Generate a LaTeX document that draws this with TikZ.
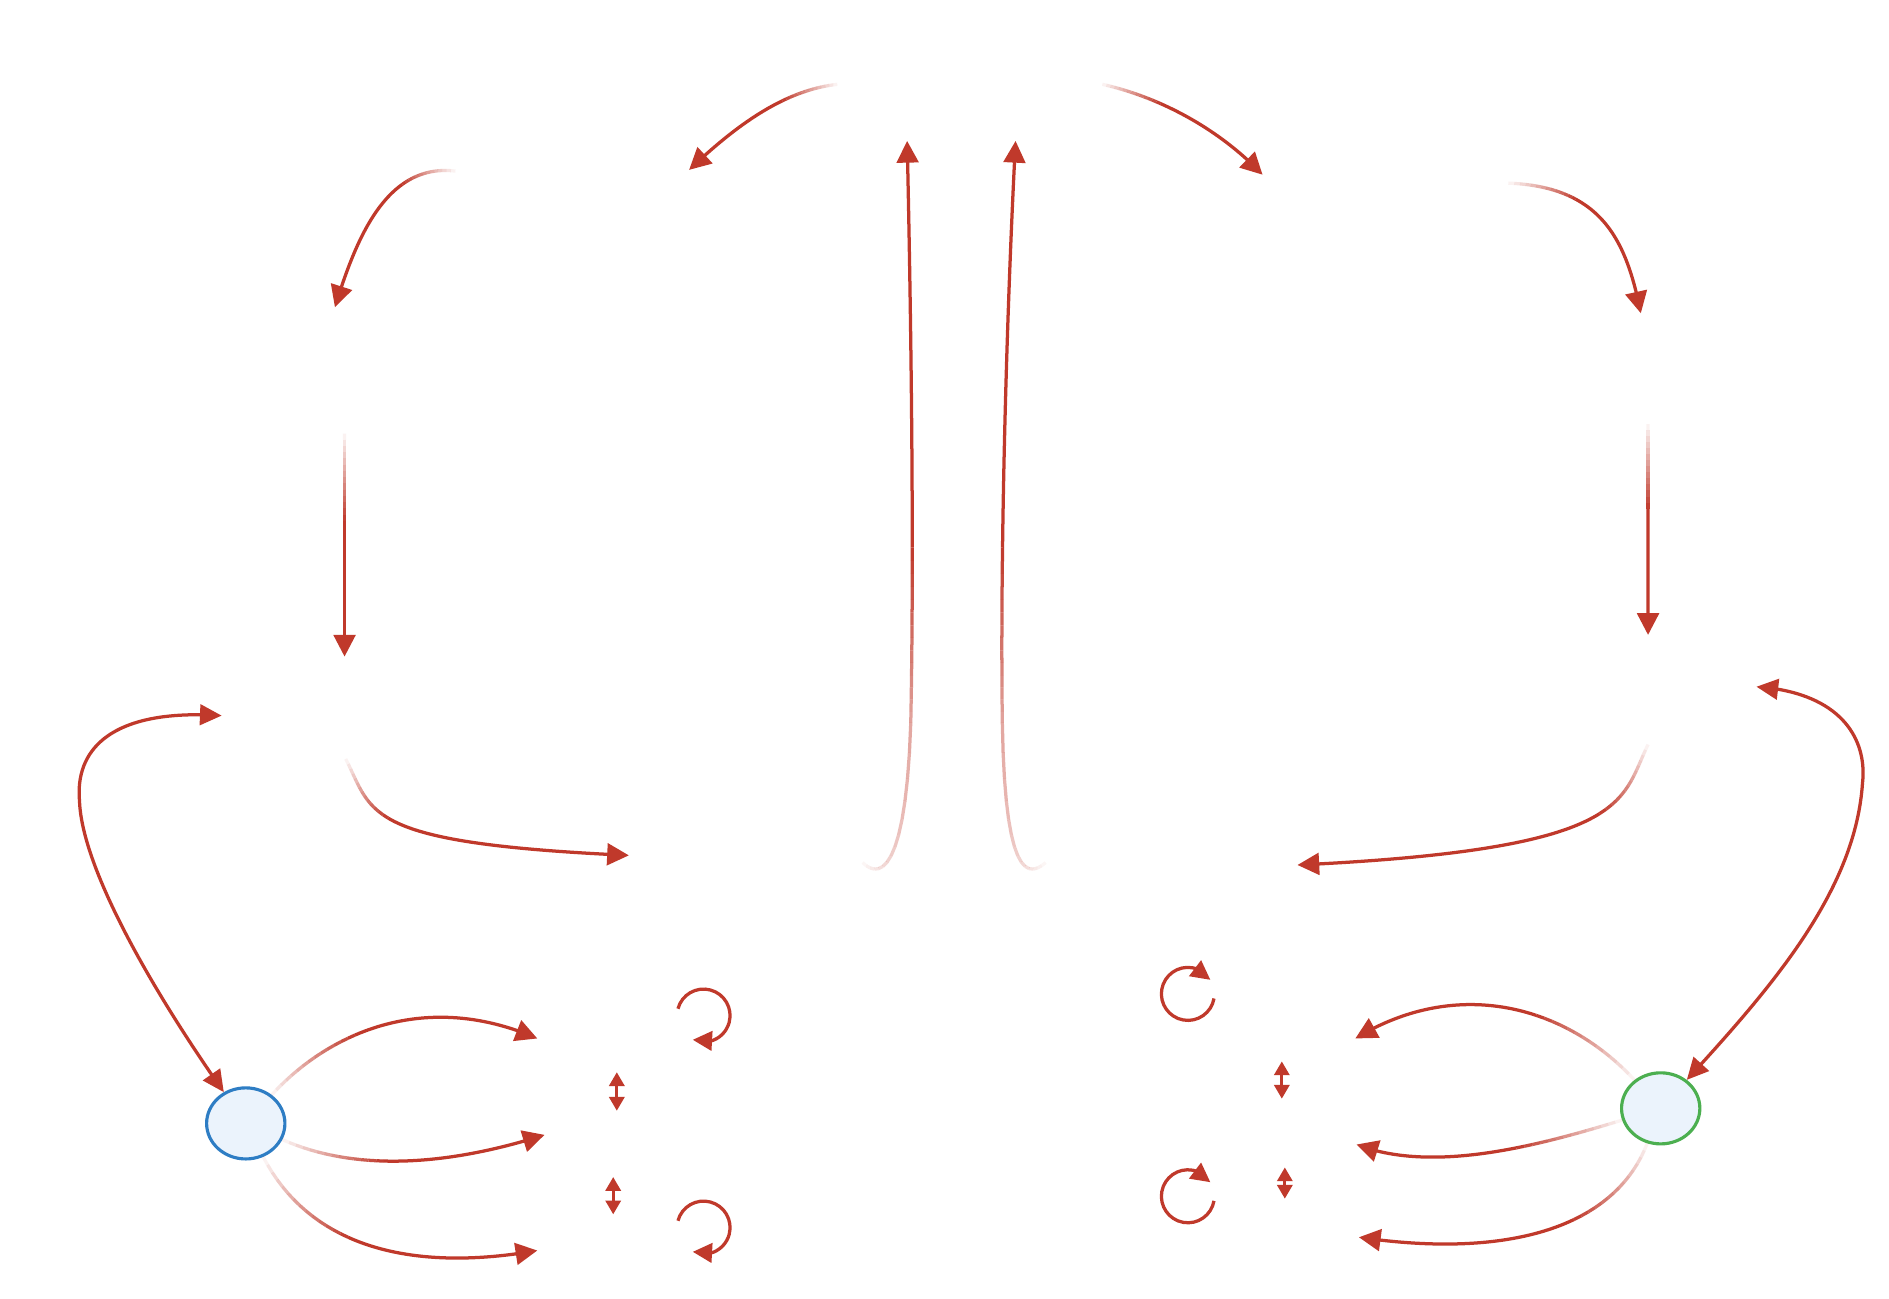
\documentclass[tikz,border=0pt]{standalone}
\usetikzlibrary{arrows.meta,calc,bending,shapes.geometric}
\definecolor{arrowred}{HTML}{C0392B}
\definecolor{userblue}{HTML}{2E7DC4}
\definecolor{usergreen}{HTML}{4CAF50}
\definecolor{userfill}{HTML}{EBF3FC}
\tikzset{
  conn/.style={draw=arrowred, line width=0.27mm, line cap=butt},
  bigtip/.style={-{Triangle[length=1.8mm,width=1.8mm]}},
  twotip/.style={{Triangle[length=1.8mm,width=1.7mm]}-{Triangle[length=1.8mm,width=1.7mm]}},
  looptip/.style={-{Triangle[length=1.6mm,width=1.6mm]}},
  smalltip/.style={{Triangle[length=1.15mm,width=1.25mm]}-{Triangle[length=1.15mm,width=1.25mm]}},
  userstyle/.style={shape=ellipse, minimum width=6.5mm, minimum height=5.9mm, inner sep=0pt,
    line width=0.26mm, fill=userfill},
}
% faded cubic piece, opacity ramp #6 -> #7, no tip
\newcommand\fadepart[7]{%
  \foreach \k in {0,...,14}{%
    \pgfmathsetmacro\fcpos{\k/14}%
    \path (#2) .. controls (#3) and (#4) .. (#5) coordinate[pos=\fcpos] (#1-\k);}%
  \foreach \k in {1,...,14}{%
    \pgfmathtruncatemacro\fckm{\k-1}%
    \pgfmathsetmacro\fcop{#6+(#7-#6)*(\k-0.5)/14}%
    \draw[conn, opacity=\fcop] (#1-\fckm) -- (#1-\k);}%
}
% cubic connector: first fraction #6 faded from opacity #7, rest opaque with tip #8
\newcommand\fadeconn[8]{%
  \foreach \k in {0,...,14}{%
    \pgfmathsetmacro\fcpos{#6*\k/14}%
    \path (#2) .. controls (#3) and (#4) .. (#5) coordinate[pos=\fcpos] (#1-\k);}%
  \foreach \k in {1,...,14}{%
    \pgfmathtruncatemacro\fckm{\k-1}%
    \pgfmathsetmacro\fcop{#7+(1-#7)*(\k-0.5)/14}%
    \draw[conn, opacity=\fcop] (#1-\fckm) -- (#1-\k);}%
  \coordinate (#1-B) at ($(#3)!#6!(#4)$);%
  \coordinate (#1-C) at ($(#4)!#6!(#5)$);%
  \coordinate (#1-E) at ($(#1-B)!#6!(#1-C)$);%
  \draw[conn, #8] (#1-14) .. controls (#1-E) and (#1-C) .. (#5);%
}
\begin{document}
\begin{tikzpicture}[x=0.1mm, y=-0.1mm]
\fill[white] (0,0) rectangle (1568,1078);
\useasboundingbox (0,0) rectangle (1568,1078);

% user nodes
\node[userstyle, draw=userblue] (userL) at (204,932.5) {};
\node[userstyle, draw=usergreen] (userR) at (1378.5,920) {};

% end points
\coordinate (pA0) at (695,70);   \coordinate (pA1) at (572,141);
\coordinate (pD0) at (915,70);   \coordinate (pD1) at (1048,145);
\coordinate (pE0) at (378,142);  \coordinate (pE1) at (278,255);
\coordinate (pF0) at (1252,152); \coordinate (pF1) at (1362,260);
\coordinate (pG0) at (286,360);  \coordinate (pG1) at (286,545);
\coordinate (pH0) at (1368,352); \coordinate (pH1) at (1368,527);
\coordinate (pI0) at (287,630);  \coordinate (pI1) at (522,710);
\coordinate (pJ0) at (1368,618); \coordinate (pJ1) at (1077,718);
\coordinate (pB0) at (716,716);  \coordinate (pB1) at (756,600); \coordinate (pB2) at (753,117);
\coordinate (pC0) at (868,716);  \coordinate (pC1) at (832,600); \coordinate (pC2) at (843,117);
\coordinate (pM1) at (446,862);  \coordinate (pM2) at (452,942); \coordinate (pM3) at (446,1038);
\coordinate (pN1) at (1125,862); \coordinate (pN2) at (1126,950); \coordinate (pN3) at (1128,1027);
\coordinate (pK) at (184,594);   \coordinate (pL) at (1458,570);
\coordinate (lo1) at (562.75,837.3);  \coordinate (lo2) at (562.75,1013.3);
\coordinate (ro1) at (1007.7,828.8);  \coordinate (ro2) at (1007.7,996.8);
\coordinate (s1a) at (512,890); \coordinate (s1b) at (512,922);
\coordinate (s2a) at (509,977); \coordinate (s2b) at (509,1008);
\coordinate (s3a) at (1064,881); \coordinate (s3b) at (1064,912);
\coordinate (s4a) at (1066.5,969); \coordinate (s4b) at (1066.5,995);

% top arcs
\fadeconn{a}{pA0}{650,75}{610,105}{pA1}{0.35}{0.03}{bigtip}
\fadeconn{d}{pD0}{960,80}{1010,105}{pD1}{0.35}{0.03}{bigtip}
\fadeconn{e}{pE0}{320,135}{295,200}{pE1}{0.3}{0.03}{bigtip}
\fadeconn{f}{pF0}{1330,155}{1350,200}{pF1}{0.3}{0.03}{bigtip}
% verticals down
\fadeconn{g}{pG0}{286,420}{286,480}{pG1}{0.4}{0.03}{bigtip}
\fadeconn{h}{pH0}{1368,410}{1368,470}{pH1}{0.4}{0.03}{bigtip}
% bottom sweeps
\fadeconn{i}{pI0}{310,675}{300,700}{pI1}{0.45}{0.03}{bigtip}
\fadeconn{j}{pJ0}{1345,665}{1355,705}{pJ1}{0.45}{0.03}{bigtip}
% long verticals up
\fadepart{bh}{pB0}{730,730}{752,725}{pB1}{0.03}{0.45}
\fadeconn{b}{pB1}{759,450}{756,250}{pB2}{0.3}{0.45}{bigtip}
\fadepart{ch}{pC0}{852,730}{834,725}{pC1}{0.03}{0.45}
\fadeconn{c}{pC1}{830,450}{836,250}{pC2}{0.3}{0.45}{bigtip}

% big double arrows
\draw[conn, twotip] (pK) .. controls (95,588) and (62,620) .. (66,665)
   .. controls (68,720) and (125,820) .. (userL);
\draw[conn, twotip] (pL) .. controls (1530,575) and (1550,615) .. (1546,650)
   .. controls (1540,740) and (1470,820) .. (userR);

% from left user
\fadeconn{m1}{userL}{270,860}{350,820}{pM1}{0.4}{0.03}{bigtip}
\fadeconn{m2}{userL}{300,975}{380,965}{pM2}{0.4}{0.03}{bigtip}
\fadeconn{m3}{userL}{260,1040}{350,1055}{pM3}{0.4}{0.03}{bigtip}
% from right user
\fadeconn{n1}{userR}{1300,835}{1210,810}{pN1}{0.4}{0.03}{bigtip}
\fadeconn{n2}{userR}{1280,950}{1190,975}{pN2}{0.4}{0.03}{bigtip}
\fadeconn{n3}{userR}{1340,1020}{1250,1045}{pN3}{0.4}{0.03}{bigtip}

% loops
\draw[conn, looptip] (lo1) arc[start angle=165, end angle=-114, radius=2.2mm];
\draw[conn, looptip] (lo2) arc[start angle=165, end angle=-114, radius=2.2mm];
\draw[conn, looptip] (ro1) arc[start angle=-10, end angle=-328, radius=2.2mm];
\draw[conn, looptip] (ro2) arc[start angle=-10, end angle=-328, radius=2.2mm];

% small double arrows
\draw[conn, smalltip] (s1a) -- (s1b);
\draw[conn, smalltip] (s2a) -- (s2b);
\draw[conn, smalltip] (s3a) -- (s3b);
\draw[conn, smalltip] (s4a) -- (s4b);
\end{tikzpicture}
\end{document}
